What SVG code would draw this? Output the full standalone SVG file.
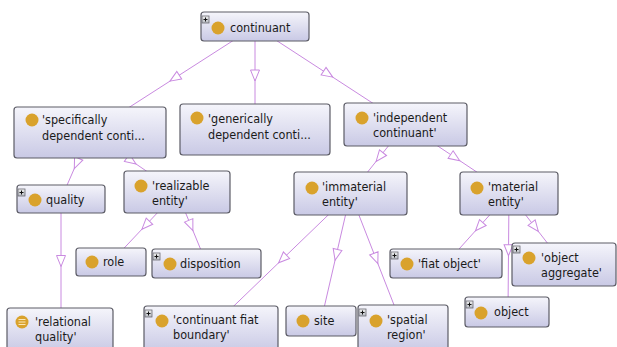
<svg xmlns="http://www.w3.org/2000/svg" width="617" height="347" viewBox="0 0 617 347">
  <defs>
    <linearGradient id="boxFill" x1="0" y1="0" x2="0" y2="1">
      <stop offset="0" stop-color="#f5f5fb"/>
      <stop offset="1" stop-color="#c9c9e5"/>
    </linearGradient>
    <linearGradient id="plusFill" x1="0" y1="0" x2="0" y2="1">
      <stop offset="0" stop-color="#f0f0f0"/>
      <stop offset="1" stop-color="#b8bcc4"/>
    </linearGradient>
    <marker id="isa" markerUnits="userSpaceOnUse" viewBox="-1 -6 14 12" refX="8" refY="0" markerWidth="14" markerHeight="12" orient="auto">
      <path d="M0,-4.5 L11,0 L0,4.5 Z" fill="#ffffff" stroke="#c98ae0" stroke-width="1"/>
    </marker>
    <g id="plus">
      <rect x="0" y="0" width="7" height="7" fill="url(#plusFill)" stroke="#6a6a72" stroke-width="0.8"/>
      <path d="M1.5,3.5 H5.5 M3.5,1.5 V5.5" stroke="#111" stroke-width="1"/>
    </g>
  </defs>
  <style>
    .box { fill: url(#boxFill); stroke: #5c5c66; stroke-width: 1.2; }
    .cls { fill: #d9a22c; }
    .lbl { font-family: "DejaVu Sans Condensed", "DejaVu Sans", sans-serif; font-stretch: condensed; font-size: 12.5px; fill: #1a1a1a; }
    .edge { fill: none; stroke: #c98ae0; stroke-width: 1; marker-mid: url(#isa); }
  </style>

  <rect width="617" height="347" fill="#ffffff"/>

  <g id="connectors">
    <path class="edge" d="M255,26.5 L172.5,79.5 L90,132.5"/>
    <path class="edge" d="M255,26.5 L255,78 L255,129.5"/>
    <path class="edge" d="M255,26.5 L330.25,75.5 L405.5,124.5"/>
    <path class="edge" d="M90,132.5 L75.5,165.75 L61,199"/>
    <path class="edge" d="M90,132.5 L133.5,162.25 L177,192"/>
    <path class="edge" d="M61,199 L61,263.5 L61,328"/>
    <path class="edge" d="M177,192 L144,227 L111,262"/>
    <path class="edge" d="M177,192 L191.75,227.75 L206.5,263.5"/>
    <path class="edge" d="M405.5,124.5 L378,159 L350.5,193.5"/>
    <path class="edge" d="M405.5,124.5 L457.25,159 L509,193.5"/>
    <path class="edge" d="M350.5,193.5 L280.75,260.75 L211,328"/>
    <path class="edge" d="M350.5,193.5 L335.75,257.25 L321,321"/>
    <path class="edge" d="M350.5,193.5 L376.75,260.75 L403,328"/>
    <path class="edge" d="M509,193.5 L477.5,228.5 L446,263.5"/>
    <path class="edge" d="M509,193.5 L536.5,229 L564,264.5"/>
    <path class="edge" d="M509,193.5 L508.5,252.75 L508,312"/>
  </g>

  <g id="continuant">
    <rect class="box" x="201" y="12" width="108" height="29" rx="3"/>
    <use href="#plus" x="202" y="16"/>
    <circle class="cls" cx="218" cy="28" r="6.5"/>
    <text class="lbl" x="230" y="32">continuant</text>
  </g>

  <g id="specifically-dependent-continuant">
    <rect class="box" x="14" y="107" width="152" height="51" rx="3"/>
    <circle class="cls" cx="32" cy="120" r="6.5"/>
    <text class="lbl" x="42" y="124">'specifically</text>
    <text class="lbl" x="42" y="140">dependent conti...</text>
  </g>

  <g id="generically-dependent-continuant">
    <rect class="box" x="180" y="104" width="150" height="51" rx="3"/>
    <circle class="cls" cx="197" cy="118" r="6.5"/>
    <text class="lbl" x="208" y="123">'generically</text>
    <text class="lbl" x="208" y="139">dependent conti...</text>
  </g>

  <g id="independent-continuant">
    <rect class="box" x="344" y="103" width="123" height="43" rx="3"/>
    <circle class="cls" cx="362" cy="118" r="6.5"/>
    <text class="lbl" x="373" y="122">'independent</text>
    <text class="lbl" x="373" y="137">continuant'</text>
  </g>

  <g id="quality">
    <rect class="box" x="17" y="185" width="88" height="28" rx="3"/>
    <use href="#plus" x="18" y="189"/>
    <circle class="cls" cx="35" cy="200" r="6.5"/>
    <text class="lbl" x="46" y="204">quality</text>
  </g>

  <g id="realizable-entity">
    <rect class="box" x="124" y="171" width="106" height="42" rx="3"/>
    <circle class="cls" cx="141" cy="186" r="6.5"/>
    <text class="lbl" x="152" y="190">'realizable</text>
    <text class="lbl" x="152" y="205">entity'</text>
  </g>

  <g id="role">
    <rect class="box" x="76" y="248" width="70" height="28" rx="3"/>
    <circle class="cls" cx="92" cy="262" r="6.5"/>
    <text class="lbl" x="103" y="266">role</text>
  </g>

  <g id="disposition">
    <rect class="box" x="152" y="249" width="109" height="29" rx="3"/>
    <use href="#plus" x="153" y="253"/>
    <circle class="cls" cx="170" cy="264" r="6.5"/>
    <text class="lbl" x="180" y="268">disposition</text>
  </g>

  <g id="immaterial-entity">
    <rect class="box" x="294" y="172" width="113" height="43" rx="3"/>
    <circle class="cls" cx="312" cy="188" r="6.5"/>
    <text class="lbl" x="322" y="191">'immaterial</text>
    <text class="lbl" x="322" y="206">entity'</text>
  </g>

  <g id="material-entity">
    <rect class="box" x="460" y="172" width="98" height="43" rx="3"/>
    <circle class="cls" cx="477" cy="188" r="6.5"/>
    <text class="lbl" x="488" y="191">'material</text>
    <text class="lbl" x="488" y="206">entity'</text>
  </g>

  <g id="fiat-object">
    <rect class="box" x="390" y="249" width="112" height="29" rx="3"/>
    <use href="#plus" x="391" y="252"/>
    <circle class="cls" cx="407" cy="264" r="6.5"/>
    <text class="lbl" x="418" y="268">'fiat object'</text>
  </g>

  <g id="object-aggregate">
    <rect class="box" x="512" y="243" width="104" height="43" rx="3"/>
    <use href="#plus" x="513" y="246"/>
    <circle class="cls" cx="529" cy="258" r="6.5"/>
    <text class="lbl" x="541" y="262">'object</text>
    <text class="lbl" x="541" y="277">aggregate'</text>
  </g>

  <g id="relational-quality">
    <rect class="box" x="7" y="308" width="106" height="44" rx="3"/>
    <circle class="cls" cx="22" cy="322" r="6.5"/>
    <path d="M18.5,319.5 H25.5 M18.5,322 H25.5 M18.5,324.5 H25.5" stroke="#fbe7b8" stroke-width="1"/>
    <text class="lbl" x="35" y="326">'relational</text>
    <text class="lbl" x="35" y="341">quality'</text>
  </g>

  <g id="continuant-fiat-boundary">
    <rect class="box" x="144" y="306" width="134" height="46" rx="3"/>
    <use href="#plus" x="145" y="310"/>
    <circle class="cls" cx="162" cy="321" r="6.5"/>
    <text class="lbl" x="173" y="324">'continuant fiat</text>
    <text class="lbl" x="173" y="339">boundary'</text>
  </g>

  <g id="site">
    <rect class="box" x="286" y="306" width="70" height="30" rx="3"/>
    <circle class="cls" cx="303" cy="321" r="6.5"/>
    <text class="lbl" x="314" y="325">site</text>
  </g>

  <g id="spatial-region">
    <rect class="box" x="358" y="305" width="90" height="47" rx="3"/>
    <use href="#plus" x="359" y="309"/>
    <circle class="cls" cx="376" cy="321" r="6.5"/>
    <text class="lbl" x="387" y="324">'spatial</text>
    <text class="lbl" x="387" y="339">region'</text>
  </g>

  <g id="object">
    <rect class="box" x="465" y="297" width="84" height="30" rx="3"/>
    <use href="#plus" x="466" y="301"/>
    <circle class="cls" cx="481" cy="313" r="6.5"/>
    <text class="lbl" x="494" y="316">object</text>
  </g>
</svg>
